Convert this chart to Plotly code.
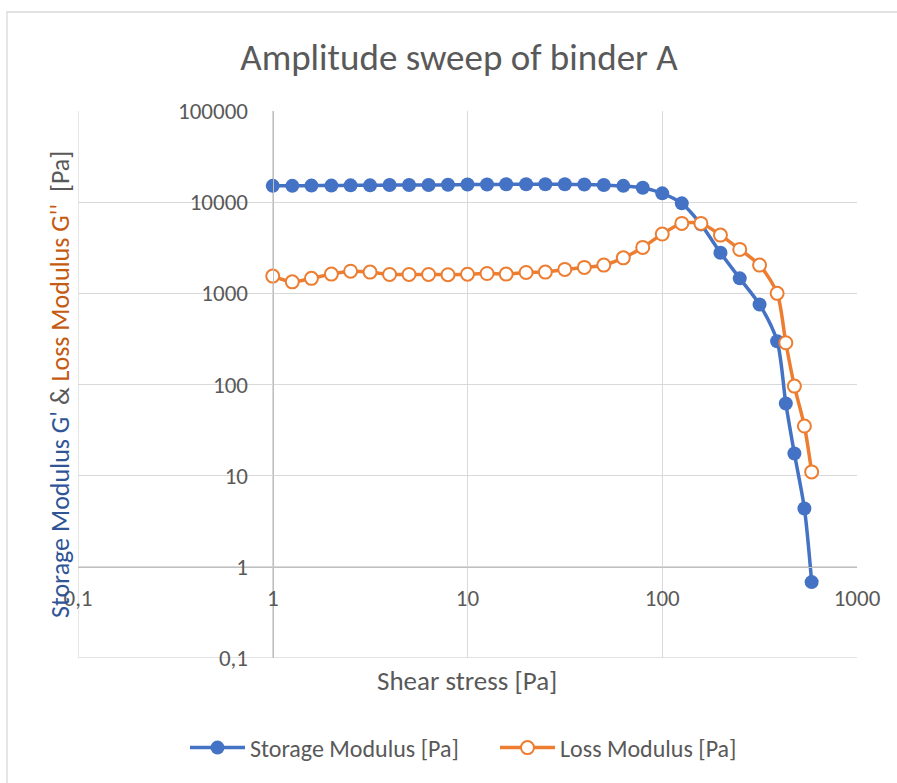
import plotly.graph_objects as go

# Shear stress steps of the amplitude sweep [Pa]
shear_stress = [1, 1.26, 1.58, 2.0, 2.51, 3.16, 3.98, 5.01, 6.31, 7.94,
                10, 12.6, 15.8, 20.0, 25.1, 31.6, 39.8, 50.1, 63.1, 79.4,
                100, 126, 158, 199, 250, 316, 389, 431, 477, 537, 585]

# Storage modulus G' [Pa]
storage_modulus = [15100, 15100, 15200, 15200, 15300, 15300, 15400, 15400, 15400, 15500,
                   15600, 15600, 15700, 15700, 15700, 15700, 15600, 15400, 15100, 14400,
                   12500, 9700, 5700, 2790, 1460, 755, 298, 62, 17.5, 4.36, 0.68]

# Loss modulus G'' [Pa]
loss_modulus = [1545, 1336, 1460, 1625, 1750, 1710, 1610, 1610, 1610, 1600,
                1620, 1650, 1625, 1695, 1710, 1830, 1925, 2040, 2450, 3190,
                4470, 5850, 5850, 4350, 3035, 2040, 1000, 287, 96, 35, 11]

x_tick_vals = [0.1, 1, 10, 100, 1000]
x_tick_text = ["0,1", "1", "10", "100", "1000"]
y_tick_vals = [0.1, 1, 10, 100, 1000, 10000, 100000]
y_tick_text = ["0,1", "1", "10", "100", "1000", "10000", "100000"]

FONT = "Carlito, Calibri, Lato, sans-serif"
GRAY_TEXT = "#595959"
GRID = "#D9D9D9"
BLUE = "#4472C4"
ORANGE = "#ED7D31"

W, H = 897, 783
L, R, T, B = 78, 40, 111, 125
pw = W - L - R
ph = H - T - B


def px_x(p):
    return (p - L) / pw


def px_y(p):
    return (H - B - p) / ph


fig = go.Figure()

fig.add_trace(go.Scatter(
    x=shear_stress, y=storage_modulus, name="Storage Modulus [Pa]",
    mode="lines+markers",
    line=dict(color=BLUE, width=3.5, shape="spline", smoothing=0.8),
    marker=dict(color=BLUE, size=14, symbol="circle", line=dict(width=0)),
))

fig.add_trace(go.Scatter(
    x=shear_stress, y=loss_modulus, name="Loss Modulus [Pa]",
    mode="lines+markers",
    line=dict(color=ORANGE, width=3.5, shape="spline", smoothing=0.8),
    marker=dict(color="white", size=13, symbol="circle", line=dict(color=ORANGE, width=2)),
))

fig.update_layout(
    width=W, height=H,
    margin=dict(l=L, r=R, t=T, b=B),
    paper_bgcolor="white", plot_bgcolor="white",
    font=dict(family=FONT, color=GRAY_TEXT, size=22),
    showlegend=True,
    legend=dict(orientation="h", x=px_x(495), xanchor="center",
                y=px_y(748), yanchor="middle", itemwidth=55,
                entrywidth=240, entrywidthmode="pixels",
                font=dict(size=24, color=GRAY_TEXT), bgcolor="rgba(0,0,0,0)"),
    title=dict(text="Amplitude sweep of binder A", x=459 / W, xanchor="center",
               xref="container", y=1 - 57 / H, yref="container", yanchor="middle",
               font=dict(size=37, color=GRAY_TEXT, family=FONT)),
    xaxis=dict(type="log", range=[-1, 3], domain=[0, 1],
               anchor="free", position=1 / 6,
               tickvals=x_tick_vals, ticktext=x_tick_text,
               showgrid=True, gridcolor=GRID, gridwidth=1.3,
               showline=True, linecolor="#BFBFBF", linewidth=1.3,
               ticks="", ticklabelstandoff=10,
               tickfont=dict(size=23, color=GRAY_TEXT), zeroline=False),
    yaxis=dict(type="log", range=[-1, 5], domain=[0, 1],
               anchor="free", position=0.25,
               tickvals=y_tick_vals, ticktext=y_tick_text,
               showgrid=True, gridcolor=GRID, gridwidth=1.3,
               showline=True, linecolor="#BFBFBF", linewidth=1.3,
               ticks="", ticklabelstandoff=20,
               tickfont=dict(size=23, color=GRAY_TEXT), zeroline=False),
)

# Gridlines on the lower and left edges of the plot area
fig.add_shape(type="line", xref="x", yref="paper",
              x0=x_tick_vals[0], x1=x_tick_vals[0], y0=0, y1=1,
              line=dict(color=GRID, width=1.3), layer="below")
fig.add_shape(type="line", xref="paper", yref="y",
              x0=0, x1=1, y0=y_tick_vals[0], y1=y_tick_vals[0],
              line=dict(color=GRID, width=1.3), layer="below")

# X axis title
fig.add_annotation(text="Shear stress [Pa]", xref="paper", yref="paper",
                   x=px_x(467), y=px_y(680), xanchor="center", yanchor="middle",
                   showarrow=False, font=dict(size=27, color=GRAY_TEXT, family=FONT))

# Y axis title with series-coloured parts
fig.add_annotation(
    text=("<span style='color:#2F5597'>Storage Modulus G'</span> & "
          "<span style='color:#C55A11'>Loss Modulus G''</span>  [Pa]"),
    xref="paper", yref="paper", x=px_x(60), y=px_y(385),
    xanchor="center", yanchor="middle", textangle=-90, showarrow=False,
    font=dict(size=26, color=GRAY_TEXT, family=FONT))

# Chart area border
fig.add_shape(type="rect", xref="paper", yref="paper",
              x0=px_x(7), x1=px_x(W + 20), y0=px_y(H + 20), y1=px_y(12),
              line=dict(color=GRID, width=1.3), fillcolor="rgba(0,0,0,0)",
              layer="below")

fig.write_html("out.html")
